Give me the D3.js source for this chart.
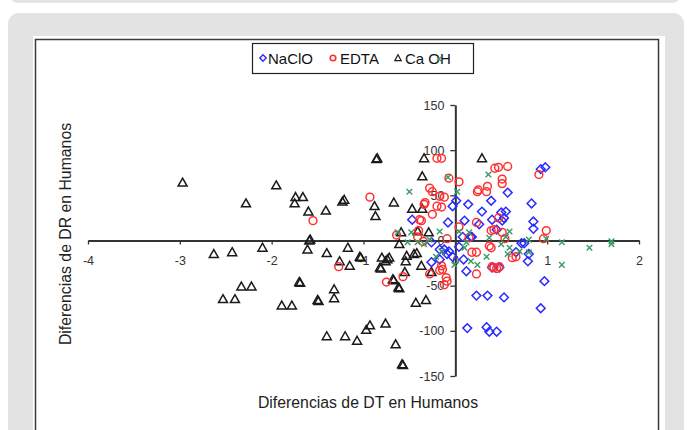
<!DOCTYPE html>
<html><head><meta charset="utf-8">
<script src="https://cdn.jsdelivr.net/npm/d3@7"></script>
<style>body{margin:0;background:#fff;}svg{display:block;font-family:"Liberation Sans",Arial,sans-serif;}</style>
</head><body>
<svg id="c" width="687" height="430"></svg>
<script>
// ---- data ----
const seriesNames = ["NaClO", "EDTA", "Ca OH"];
const xTicks = [-4, -3, -2, -1, 0, 1, 2];
const yTicks = [-150, -100, -50, 0, 50, 100, 150];
const xTitle = "Diferencias de DT en Humanos";
const yTitle = "Diferencias de DR en Humanos";

const nacloX = [0.93,0.98,0.83,0.57,0.39,0.14,0.01,-0.03,-0.08,0.10,0.29,0.40,0.26,0.55,0.53,0.51,0.85,0.85,-0.47,0.18,0.72,0.75,0.45,-0.26,0.12,0.23,0.35,0.53,0.13,0.34,0.37,0.45,0.93,0.97,0.79,0.80,0.66,-0.07,-0.03,-0.17,0.04,0.48,0.17,0.08,0.50,-0.26,-0.17,-0.12,-0.09,0.09,0.40];
const nacloY = [79,81,41,53,44,40,44,38,20,22,32,23,18,32,25,22,21,13,23,4,-3,-3,12,-24,-34,-61,-61,-63,-97,-96,-101,-101,-75,-45,-23,-15,-13,-12,-18,-21,-7,-30,4,4,31,-2,-10,-10,-15,-21,-30];

const edtaX = [-0.20,-0.15,-0.28,-0.25,-0.07,0.04,0.25,0.35,0.34,0.43,0.47,0.57,0.51,0.51,0.91,-0.12,-0.15,-0.20,-0.34,-0.39,-0.25,0.23,0.04,0.47,0.39,0.54,0.99,0.96,-0.09,-0.40,-0.41,-0.93,-1.55,-0.37,-0.64,-0.35,-0.33,0.23,0.18,0.37,0.40,0.45,0.48,0.62,0.66,0.23,-0.28,-0.14,-0.10,-0.09,-0.57,0.15,-1.27,-0.75,-0.17,-0.15,0.24,0.42,0.51,0.39,0.42,-0.17,-0.12];
const edtaY = [91,91,58,54,69,65,56,60,54,80,81,82,68,63,73,48,37,38,40,23,29,20,15,25,11,2,11,2,2,11,4,48,22,22,6,-1,42,-13,-13,-6,-29,-31,-29,-19,-18,-37,-37,-32,-41,-45,-40,3,-29,-46,-33,-28,54,12,9,-8,-30,49,-49];

const caohX = [-2.97,-2.28,-1.95,-1.75,-1.74,-1.66,-1.60,-1.41,-1.23,-1.21,-0.86,-0.85,-0.88,-0.87,-0.67,-0.47,-0.36,-0.36,-0.34,0.29,-0.59,-1.59,-1.58,-2.10,-1.61,-1.40,-1.17,-1.26,-1.15,-1.04,-1.03,-0.80,-0.72,-0.76,-0.82,-0.81,-0.53,-0.42,-0.54,-0.55,-0.68,-0.67,-0.62,-0.61,-0.37,-1.70,-1.69,-1.32,-1.32,-1.50,-1.49,-1.89,-1.78,-0.32,-0.43,-0.93,-0.97,-0.76,-1.40,-1.20,-1.07,-0.65,-0.58,-0.57,-2.63,-2.43,-2.33,-2.22,-2.53,-2.40,-0.29,-0.41,-0.74,-0.26,-0.61,-0.45];
const caohY = [64,41,61,41,48,48,32,33,43,45,90,91,38,27,42,35,35,71,91,91,9,0,1,-8,-10,-14,-8,-23,-28,-18,-19,-19,-19,-23,-30,-31,-17,-14,-23,-35,-43,-44,-52,-53,-28,-46,-47,-54,-64,-66,-67,-72,-72,-66,-69,-94,-99,-92,-106,-106,-111,-115,-137,-138,-15,-13,-51,-51,-65,-65,9,10,-21,-35,-4,-15];

const greenX = [-0.50,0.36,-0.08,0.02,1.16,1.46,1.70,1.70,1.16,0.80,0.34,0.17,0.24,-0.21,0.15,0.12,0.55,0.59,0.59,0.80,0.50,0.57,0.70,-0.48,-0.17,-0.52,-0.41,-0.34,-0.28,-0.01,-0.15,0.99,0.37,-0.63,0.04,0.10];
const greenY = [54,73,70,54,-2,-8,-1,-4,-27,-13,-18,-23,-27,-18,9,-2,4,-8,10,1,-4,-15,-12,9,10,-2,-2,-4,1,-27,-12,2,3,9,10,-8];

const zip = (xs, ys) => xs.map((v, i) => ({x: v, y: ys[i]}));

// ---- drawing ----
const svg = d3.select("#c");

// page decoration
svg.append("rect").attr("x", 10).attr("y", -12).attr("width", 670).attr("height", 15).attr("rx", 8).attr("fill", "#e4e4e4");
svg.append("rect").attr("x", 8).attr("y", 13).attr("width", 676).attr("height", 440).attr("rx", 11).attr("fill", "#e3e3e3");
svg.append("rect").attr("x", 33).attr("y", 36).attr("width", 632).attr("height", 420).attr("fill", "#fff");
svg.append("rect").attr("x", 35.5).attr("y", 39.5).attr("width", 623).attr("height", 420).attr("fill", "none").attr("stroke", "#3a3a3a").attr("stroke-width", 1.5);

const x = d3.scaleLinear().domain([-4, 2]).range([88, 639]);
const y = d3.scaleLinear().domain([-150, 150]).range([376, 105]);

const gx = svg.append("g").attr("transform", `translate(0,${y(0)})`)
  .call(d3.axisBottom(x).tickValues(xTicks).tickSize(4).tickSizeOuter(0).tickPadding(12).tickFormat(d3.format("d")));
const gy = svg.append("g").attr("transform", `translate(${x(0)},0)`)
  .call(d3.axisLeft(y).tickValues(yTicks).tickSize(5).tickSizeOuter(0).tickPadding(6).tickFormat(d3.format("d")));
[gx, gy].forEach(g => {
  g.select(".domain").attr("stroke", "#333").attr("stroke-width", 2);
  g.selectAll(".tick line").attr("stroke", "#333").attr("stroke-width", 1.3);
  g.selectAll(".tick text").attr("fill", "#333").attr("font-size", 12.5).attr("font-family", "Liberation Sans, Arial, sans-serif");
});
gx.selectAll(".tick text").text(d => d < 0 ? "-" + Math.abs(d) : d);
gy.selectAll(".tick text").text(d => d < 0 ? "-" + Math.abs(d) : d);

// markers
const triPath = "M0,-4.5L4.5,3.4L-4.5,3.4Z";
const diaPath = "M0,-4.4L4.4,0L0,4.4L-4.4,0Z";
const crossPath = "M-2.8,-2.8L2.8,2.8M-2.8,2.8L2.8,-2.8";

svg.append("g").selectAll("path").data(zip(caohX, caohY)).join("path")
  .attr("d", triPath).attr("transform", d => `translate(${x(d.x)},${y(d.y)})`)
  .attr("fill", "none").attr("stroke", "#1a1a1a").attr("stroke-width", 1.5);
svg.append("g").selectAll("path").data(zip(nacloX, nacloY)).join("path")
  .attr("d", diaPath).attr("transform", d => `translate(${x(d.x)},${y(d.y)})`)
  .attr("fill", "none").attr("stroke", "#2b2bff").attr("stroke-width", 1.5);
svg.append("g").selectAll("circle").data(zip(edtaX, edtaY)).join("circle")
  .attr("cx", d => x(d.x)).attr("cy", d => y(d.y)).attr("r", 3.9)
  .attr("fill", "none").attr("stroke", "#ff3030").attr("stroke-width", 1.5);
svg.append("g").selectAll("path").data(zip(greenX, greenY)).join("path")
  .attr("d", crossPath).attr("transform", d => `translate(${x(d.x)},${y(d.y)})`)
  .attr("fill", "none").attr("stroke", "#3a9a66").attr("stroke-width", 1.4);

// axis titles
svg.append("text").attr("x", 368).attr("y", 408).attr("text-anchor", "middle")
  .attr("font-size", 15.8).attr("fill", "#222").text(xTitle);
svg.append("text").attr("transform", "translate(71,234) rotate(-90)").attr("text-anchor", "middle")
  .attr("font-size", 15.8).attr("fill", "#222").text(yTitle);

// legend
const lg = svg.append("g");
lg.append("rect").attr("x", 252.5).attr("y", 43.5).attr("width", 221).attr("height", 30)
  .attr("fill", "#fff").attr("stroke", "#222").attr("stroke-width", 1.2);
const legItems = [
  {name: seriesNames[0], mx: 263, tx: 268, kind: "dia"},
  {name: seriesNames[1], mx: 333, tx: 340, kind: "circ"},
  {name: seriesNames[2], mx: 398, tx: 405, kind: "tri"}
];
legItems.forEach(it => {
  if (it.kind === "dia") lg.append("path").attr("d", "M0,-3.2L3.2,0L0,3.2L-3.2,0Z").attr("transform", `translate(${it.mx},58)`).attr("fill", "none").attr("stroke", "#2b2bff").attr("stroke-width", 1.4);
  if (it.kind === "circ") lg.append("circle").attr("cx", it.mx).attr("cy", 58).attr("r", 2.8).attr("fill", "none").attr("stroke", "#ff3030").attr("stroke-width", 1.6);
  if (it.kind === "tri") lg.append("path").attr("d", "M0,-3.2L3.2,2.6L-3.2,2.6Z").attr("transform", `translate(${it.mx},58)`).attr("fill", "none").attr("stroke", "#1a1a1a").attr("stroke-width", 1.2);
  lg.append("text").attr("x", it.tx).attr("y", 63.5).attr("font-size", 15).attr("fill", "#111").text(it.name);
});
lg.append("path").attr("d", "M-2,-2L2,2M-2,2L2,-2").attr("transform", "translate(439,59)").attr("stroke", "#3a9a66").attr("stroke-width", 1.3);
</script>
</body></html>
